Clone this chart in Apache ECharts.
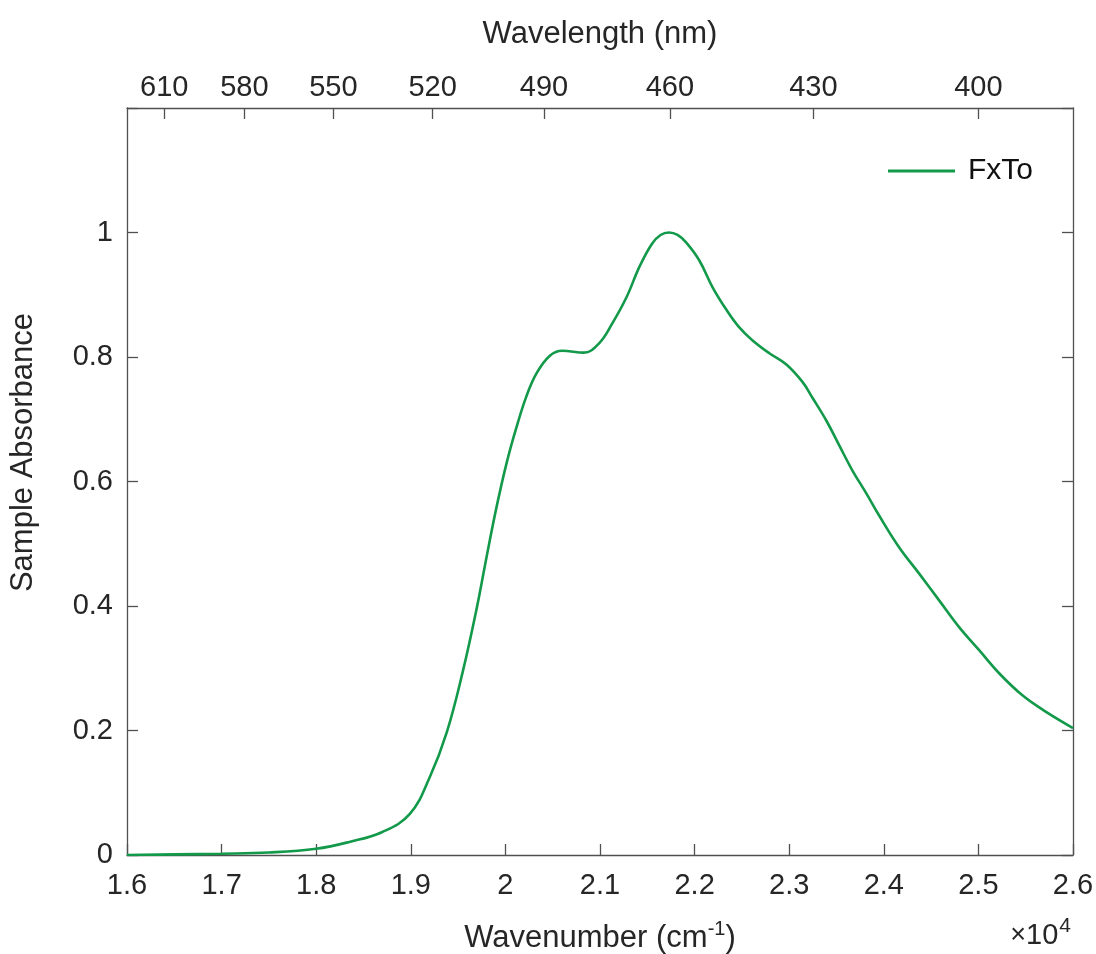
<!DOCTYPE html>
<html>
<head>
<meta charset="utf-8">
<script src="https://cdn.jsdelivr.net/npm/echarts@6/dist/echarts.min.js"></script>
<style>html,body{margin:0;padding:0;background:#fff;}#main{width:1096px;height:954px;}</style>
</head>
<body>
<div id="main"></div>
<script>
// Wavenumber (cm^-1)
const wavenumbers = [16000,16500,17000,17500,18000,18350,18700,18990,19200,19380,19550,19695,19800,19905,20010,20115,20220,20330,20470,20600,20830,20990,21130,21280,21420,21550,21640,21730,21820,21910,22050,22190,22340,22470,22610,22790,22970,23140,23244,23392,23529,23667,23815,23952,24163,24374,24585,24796,25008,25219,25462,25715,26000];
// Sample absorbance
const absorbance = [0.000,0.001,0.002,0.004,0.010,0.021,0.037,0.066,0.125,0.197,0.295,0.395,0.478,0.558,0.628,0.686,0.736,0.774,0.802,0.810,0.807,0.822,0.854,0.896,0.946,0.982,0.996,1.000,0.996,0.984,0.955,0.912,0.875,0.848,0.827,0.806,0.788,0.760,0.735,0.698,0.658,0.618,0.581,0.545,0.494,0.452,0.409,0.366,0.329,0.292,0.257,0.230,0.204];
// Top axis tick labels (nm)
const wavelengthTicks = [610,580,550,520,490,460,430,400];
const seriesName = 'FxTo';

const txt = '#262626';
const axisCol = '#505050';
const font = 'Liberation Sans, Arial, Helvetica, sans-serif';
const tickFs = 29;
const titleFs = 31;

const chart = echarts.init(document.getElementById('main'), null, {renderer:'canvas'});
const topVals = wavelengthTicks.map(l => 1e7 / l);
const lineAx = {show: true, onZero: false, lineStyle: {color: axisCol, width: 1.3}};
const tickAx = {show: true, inside: true, length: 11, lineStyle: {color: axisCol, width: 1.3}};

chart.setOption({
  backgroundColor: '#fff',
  animation: false,
  textStyle: {fontFamily: font},
  grid: {left: 127, right: 23, top: 108, bottom: 99, containLabel: false, outerBoundsMode: 'none'},
  legend: {
    data: [seriesName],
    left: 888, top: 156, padding: 0,
    itemWidth: 67, itemHeight: 3, itemGap: 10,
    icon: 'rect',
    textStyle: {fontSize: 30, color: '#111', fontFamily: font, padding: [0, 0, 0, 8]}
  },
  xAxis: [
    {
      type: 'value', position: 'bottom', min: 16000, max: 26000, interval: 1000,
      axisLine: lineAx, axisTick: tickAx,
      axisLabel: {color: txt, fontSize: tickFs, margin: 16, formatter: v => String(+(v/1e4).toFixed(1))},
      splitLine: {show: false},
      name: '{a|Wavenumber (cm}{s|-1}{a|)}',
      nameLocation: 'middle', nameGap: 64,
      nameTextStyle: {rich: {a: {fontSize: titleFs, color: txt, fontFamily: font}, s: {fontSize: 20, color: txt, fontFamily: font, padding: [0,0,18,0]}}}
    },
    {
      type: 'value', position: 'top', min: 16000, max: 26000,
      axisLine: lineAx,
      axisTick: Object.assign({}, tickAx, {customValues: topVals}),
      axisLabel: {color: txt, fontSize: tickFs, margin: 6, customValues: topVals, formatter: v => String(Math.round(1e7 / v))},
      splitLine: {show: false},
      name: 'Wavelength (nm)', nameLocation: 'middle', nameGap: 58,
      nameTextStyle: {fontSize: titleFs, color: txt}
    }
  ],
  yAxis: [
    {
      type: 'value', position: 'left', min: 0, max: 1.2, interval: 0.2,
      axisLine: lineAx, axisTick: tickAx,
      axisLabel: {color: txt, fontSize: tickFs, margin: 14, formatter: v => (Math.abs(v - 1.2) < 1e-6 ? '' : String(+v.toFixed(1)))},
      splitLine: {show: false},
      name: 'Sample Absorbance', nameLocation: 'middle', nameGap: 88, nameRotate: 90,
      nameTextStyle: {fontSize: titleFs, color: txt, padding: [0, 0, 0, 58]}
    },
    {
      type: 'value', position: 'right', min: 0, max: 1.2, interval: 0.2,
      axisLine: lineAx, axisTick: tickAx,
      axisLabel: {show: false},
      splitLine: {show: false}
    }
  ],
  graphic: [{
    type: 'text', right: 25, top: 916,
    style: {
      text: '{m|\u00d7}{b|10}{s|4}',
      rich: {
        m: {fontSize: 27, fill: txt, fontFamily: font},
        b: {fontSize: 29, fill: txt, fontFamily: font},
        s: {fontSize: 21, fill: txt, fontFamily: font, padding: [0,0,18,1]}
      }
    }
  }],
  series: [{
    name: seriesName, type: 'line', xAxisIndex: 0, yAxisIndex: 0,
    data: wavenumbers.map((w, i) => [w, absorbance[i]]),
    symbol: 'none', smooth: 0.4,
    lineStyle: {color: '#13994a', width: 2.6},
    itemStyle: {color: '#13994a'}
  }]
});
</script>
</body>
</html>
